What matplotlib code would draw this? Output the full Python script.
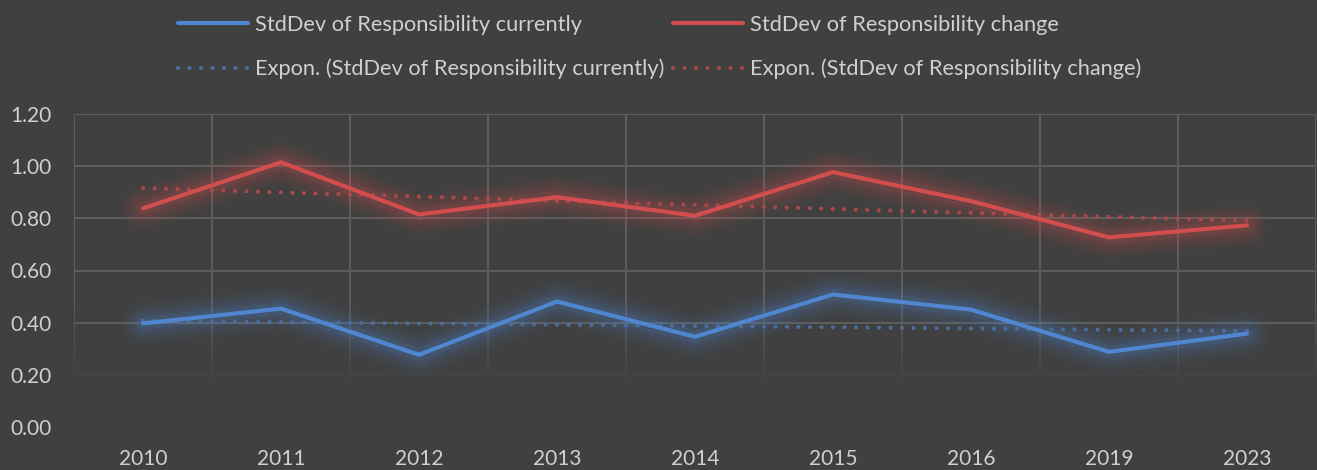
import numpy as np
import matplotlib
matplotlib.use("Agg")
import matplotlib.pyplot as plt
from matplotlib.collections import LineCollection
from matplotlib.lines import Line2D

years = ["2010", "2011", "2012", "2013", "2014", "2015", "2016", "2019", "2023"]
resp_currently = [0.397, 0.454, 0.277, 0.481, 0.346, 0.508, 0.450, 0.288, 0.358]
resp_change = [0.838, 1.015, 0.815, 0.881, 0.810, 0.977, 0.866, 0.727, 0.773]

label_cur = "StdDev of Responsibility currently"
label_chg = "StdDev of Responsibility change"

BG = "#404040"
TXT = "#D0D0D0"
GRID = "#5E5E5E"
BLUE = "#4F86CF"
RED = "#D24E4E"
BLUE_T = "#4A6D9C"
RED_T = "#A84A4A"
FS = 15
LFS = 15.7

plt.rcParams["font.family"] = ["Lato", "DejaVu Sans"]

fig = plt.figure(figsize=(13.17, 4.70), dpi=100, facecolor=BG)
ax = fig.add_axes([74 / 1317, 1 - 427 / 470, (1316 - 74) / 1317, (427 - 114) / 470])
ax.set_facecolor(BG)

x = np.arange(len(years))
ax.set_xlim(-0.5, len(years) - 0.5)
ax.set_ylim(0, 1.2)

# gridlines that fade out towards the bottom of the plot
yticks = np.round(np.arange(0, 1.21, 0.2), 2)
for yv in yticks:
    a = float(np.clip((yv - 0.17) / 0.23, 0, 1))
    if a > 0:
        ax.axhline(yv, color=GRID, lw=1.4, alpha=a, zorder=0)
segs, cols = [], []
n = 60
ys = np.linspace(1.2, 0.0, n + 1)
base = matplotlib.colors.to_rgb(GRID)
for xv in np.arange(-0.5, len(years), 1.0):
    for i in range(n):
        ymid = 0.5 * (ys[i] + ys[i + 1])
        a = float(np.clip((ymid - 0.15) / 0.35, 0, 1))
        segs.append([(xv, ys[i]), (xv, ys[i + 1])])
        cols.append((*base, a))
ax.add_collection(LineCollection(segs, colors=cols, linewidths=1.4, zorder=0))

# exponential trendlines (least squares on log values, x = 1..n)
xi = np.arange(1, len(years) + 1)


def expon(vals):
    b, a = np.polyfit(xi, np.log(vals), 1)
    return np.exp(a + b * xi)


dot = (0, (0.01, 2.75))
TW = 3.0
ax.plot(x, expon(resp_currently), color=BLUE_T, lw=TW, ls=dot,
        dash_capstyle="round", zorder=2)
ax.plot(x, expon(resp_change), color=RED_T, lw=TW, ls=dot,
        dash_capstyle="round", zorder=2)

# soft glow beneath the main lines
for vals, c in ((resp_currently, BLUE), (resp_change, RED)):
    for w, al in ((32, 0.04), (26, 0.055), (20, 0.07), (14, 0.09), (9, 0.12)):
        ax.plot(x, vals, color=c, lw=w, alpha=al, solid_capstyle="round",
                solid_joinstyle="round", zorder=1)

ax.plot(x, resp_currently, color=BLUE, lw=3, solid_capstyle="round",
        solid_joinstyle="miter", zorder=3)
ax.plot(x, resp_change, color=RED, lw=3, solid_capstyle="round",
        solid_joinstyle="miter", zorder=3)

ax.set_xticks(x)
ax.set_xticklabels(years)
ax.set_yticks(yticks)
ax.set_yticklabels([f"{v:.2f}" for v in yticks])
ax.tick_params(axis="both", length=0, colors=TXT, labelsize=FS)
ax.tick_params(axis="x", pad=16)
ax.tick_params(axis="y", pad=16)
for s in ax.spines.values():
    s.set_visible(False)

handles = [
    Line2D([], [], color=BLUE, lw=3, solid_capstyle="round"),
    Line2D([], [], color=BLUE_T, lw=TW, ls=dot, dash_capstyle="round"),
    Line2D([], [], color=RED, lw=3, solid_capstyle="round"),
    Line2D([], [], color=RED_T, lw=TW, ls=dot, dash_capstyle="round"),
]
labels = [label_cur, f"Expon. ({label_cur})", label_chg, f"Expon. ({label_chg})"]
leg = fig.legend(handles, labels, ncol=2, loc="upper left",
                 bbox_to_anchor=(167 / 1317, 1 - 4 / 470), frameon=False,
                 fontsize=LFS, handlelength=3.2, handletextpad=0.32,
                 columnspacing=0.41, labelspacing=1.1, borderpad=0,
                 labelcolor=TXT)

fig.savefig("out.png", dpi=100, facecolor=BG)
